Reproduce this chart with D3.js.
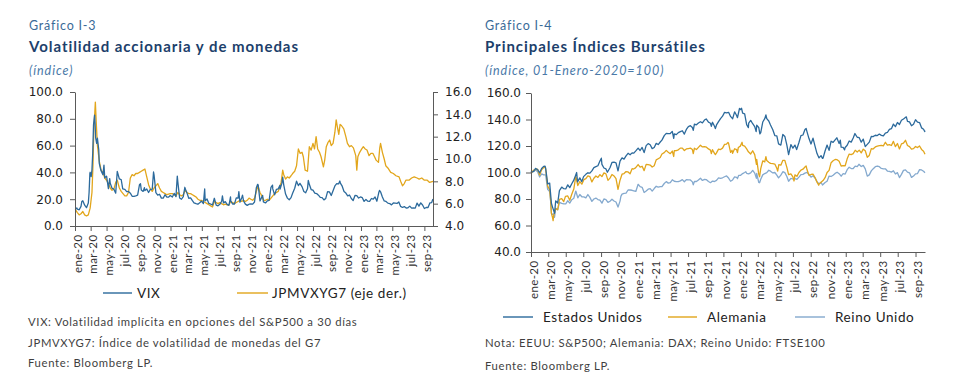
<!DOCTYPE html>
<html><head><meta charset="utf-8">
<script src="https://cdn.jsdelivr.net/npm/d3@7"></script>
<style>body{margin:0;background:#fff}</style>
</head><body>
<svg id="c" width="968" height="390"></svg>
<script>
// ---------------- DATA ----------------
const xTickLabels = ["ene-20","mar-20","may-20","jul-20","sep-20","nov-20","ene-21","mar-21","may-21","jul-21","sep-21","nov-21","ene-22","mar-22","may-22","jul-22","sep-22","nov-22","ene-23","mar-23","may-23","jul-23","sep-23"];
const yLeftTicks = [0,20,40,60,80,100];
const yRightTicks = [4,6,8,10,12,14,16];
const yIdxTicks = [40,60,80,100,120,140,160];

const vixData = [
["2020-01-02",12.5],["2020-01-08",13.5],["2020-01-10",12.6],["2020-01-17",12.1],["2020-01-24",14.6],["2020-01-27",18.2],["2020-01-31",18.8],["2020-02-07",15.5],["2020-02-14",13.7],["2020-02-21",17.1],["2020-02-24",25.0],["2020-02-27",39.2],["2020-02-28",40.1],["2020-03-03",36.8],["2020-03-06",41.9],["2020-03-09",54.5],["2020-03-12",75.5],["2020-03-16",82.7],["2020-03-18",76.5],["2020-03-20",66.0],["2020-03-24",61.7],["2020-03-27",65.5],["2020-04-01",57.1],["2020-04-03",46.8],["2020-04-09",41.7],["2020-04-17",38.2],["2020-04-21",45.4],["2020-04-24",35.9],["2020-05-01",37.2],["2020-05-08",27.9],["2020-05-13",35.3],["2020-05-15",31.9],["2020-05-22",28.2],["2020-05-29",27.5],["2020-06-05",24.5],["2020-06-11",40.8],["2020-06-19",35.1],["2020-06-26",34.7],["2020-07-02",27.7],["2020-07-10",27.3],["2020-07-17",25.7],["2020-07-24",25.8],["2020-07-31",24.5],["2020-08-07",22.2],["2020-08-14",22.1],["2020-08-21",22.5],["2020-08-28",22.96],["2020-09-04",30.75],["2020-09-08",31.5],["2020-09-11",26.9],["2020-09-18",25.8],["2020-09-23",28.6],["2020-09-25",26.4],["2020-10-02",27.6],["2020-10-09",25.0],["2020-10-16",27.4],["2020-10-23",27.55],["2020-10-28",40.3],["2020-10-30",38.0],["2020-11-06",24.9],["2020-11-13",23.1],["2020-11-20",23.7],["2020-11-27",20.8],["2020-12-04",20.8],["2020-12-11",23.3],["2020-12-18",21.6],["2020-12-24",21.5],["2020-12-31",22.75],
["2021-01-08",21.6],["2021-01-15",24.3],["2021-01-22",21.9],["2021-01-27",37.2],["2021-01-29",33.1],["2021-02-05",20.9],["2021-02-12",19.97],["2021-02-19",22.0],["2021-02-25",28.9],["2021-02-26",27.95],["2021-03-05",24.7],["2021-03-12",20.7],["2021-03-19",20.95],["2021-03-26",18.9],["2021-04-01",17.3],["2021-04-09",16.7],["2021-04-16",16.25],["2021-04-23",17.3],["2021-04-30",18.6],["2021-05-07",16.7],["2021-05-12",27.6],["2021-05-14",18.8],["2021-05-21",20.15],["2021-05-28",16.8],["2021-06-04",16.4],["2021-06-11",15.65],["2021-06-18",20.7],["2021-06-25",15.6],["2021-07-02",15.1],["2021-07-09",16.2],["2021-07-16",18.45],["2021-07-19",22.5],["2021-07-23",17.2],["2021-07-30",18.2],["2021-08-06",16.15],["2021-08-13",15.45],["2021-08-19",21.7],["2021-08-20",18.6],["2021-08-27",16.4],["2021-09-03",16.4],["2021-09-10",20.95],["2021-09-17",20.8],["2021-09-20",25.7],["2021-09-24",17.75],["2021-10-01",21.15],["2021-10-04",22.96],["2021-10-08",18.77],["2021-10-15",16.3],["2021-10-22",15.4],["2021-10-29",16.26],["2021-11-05",16.5],["2021-11-12",16.3],["2021-11-19",17.9],["2021-11-26",28.6],["2021-12-01",31.1],["2021-12-03",30.7],["2021-12-10",18.7],["2021-12-17",21.6],["2021-12-20",22.9],["2021-12-23",17.95],["2021-12-31",17.2],
["2022-01-07",18.76],["2022-01-14",19.2],["2022-01-21",28.85],["2022-01-27",30.5],["2022-01-28",27.7],["2022-02-04",23.2],["2022-02-11",27.4],["2022-02-18",27.75],["2022-02-24",30.3],["2022-02-25",27.6],["2022-03-04",31.98],["2022-03-07",36.45],["2022-03-11",30.75],["2022-03-18",23.87],["2022-03-25",20.8],["2022-04-01",19.6],["2022-04-08",21.16],["2022-04-14",24.4],["2022-04-22",28.2],["2022-04-29",33.4],["2022-05-06",30.2],["2022-05-12",31.8],["2022-05-20",29.4],["2022-05-27",25.7],["2022-06-03",24.8],["2022-06-10",27.75],["2022-06-13",34.0],["2022-06-17",31.1],["2022-06-24",27.2],["2022-07-01",26.7],["2022-07-08",24.6],["2022-07-15",24.2],["2022-07-22",23.0],["2022-07-29",21.3],["2022-08-05",21.15],["2022-08-12",19.5],["2022-08-19",20.6],["2022-08-26",25.6],["2022-09-02",25.47],["2022-09-09",22.8],["2022-09-16",26.3],["2022-09-23",29.9],["2022-09-30",31.6],["2022-10-07",31.4],["2022-10-12",33.6],["2022-10-14",32.0],["2022-10-21",29.7],["2022-10-28",25.75],["2022-11-04",24.55],["2022-11-11",22.5],["2022-11-18",23.1],["2022-11-25",20.5],["2022-12-02",19.06],["2022-12-09",22.8],["2022-12-16",22.6],["2022-12-23",20.87],["2022-12-30",21.67],
["2023-01-06",21.13],["2023-01-13",18.35],["2023-01-20",19.85],["2023-01-27",18.51],["2023-02-03",18.33],["2023-02-10",20.53],["2023-02-17",20.02],["2023-02-24",21.67],["2023-03-03",18.49],["2023-03-10",24.8],["2023-03-13",26.52],["2023-03-17",25.5],["2023-03-24",21.7],["2023-03-31",18.7],["2023-04-06",18.4],["2023-04-14",17.07],["2023-04-21",16.77],["2023-04-28",15.78],["2023-05-05",17.19],["2023-05-12",17.03],["2023-05-19",16.81],["2023-05-26",17.95],["2023-06-02",14.6],["2023-06-09",13.83],["2023-06-16",14.5],["2023-06-23",13.44],["2023-06-30",13.59],["2023-07-07",14.83],["2023-07-14",13.34],["2023-07-21",13.6],["2023-07-28",13.33],["2023-08-04",17.1],["2023-08-11",14.84],["2023-08-18",17.3],["2023-08-25",15.68],["2023-09-01",13.09],["2023-09-08",13.84],["2023-09-15",13.79],["2023-09-22",17.2],["2023-09-29",17.52],["2023-10-03",19.78],["2023-10-04",18.6]
];

const jpmData = [
["2020-01-02",5.5],["2020-01-10",5.2],["2020-01-17",5.0],["2020-01-24",5.1],["2020-01-31",5.3],["2020-02-07",5.0],["2020-02-14",4.9],["2020-02-21",5.0],["2020-02-28",5.6],["2020-03-06",7.0],["2020-03-10",9.5],["2020-03-13",12.5],["2020-03-17",14.2],["2020-03-19",15.1],["2020-03-23",13.0],["2020-03-27",11.2],["2020-04-03",9.8],["2020-04-10",9.0],["2020-04-17",8.8],["2020-04-24",8.3],["2020-05-01",8.1],["2020-05-08",7.8],["2020-05-15",7.4],["2020-05-22",7.2],["2020-05-29",7.3],["2020-06-05",7.9],["2020-06-11",8.1],["2020-06-19",7.4],["2020-06-26",7.1],["2020-07-03",6.9],["2020-07-10",6.7],["2020-07-17",6.7],["2020-07-24",7.0],["2020-07-31",8.3],["2020-08-07",8.6],["2020-08-14",8.5],["2020-08-21",8.7],["2020-08-28",8.7],["2020-09-04",8.8],["2020-09-11",8.9],["2020-09-18",9.0],["2020-09-25",9.1],["2020-10-02",8.4],["2020-10-09",7.7],["2020-10-16",7.3],["2020-10-23",7.1],["2020-10-30",7.4],["2020-11-06",7.6],["2020-11-13",7.8],["2020-11-20",7.4],["2020-11-27",7.1],["2020-12-04",7.0],["2020-12-11",6.9],["2020-12-18",6.8],["2020-12-31",6.9],
["2021-01-08",6.9],["2021-01-15",6.8],["2021-01-22",6.7],["2021-01-29",7.0],["2021-02-05",6.8],["2021-02-12",6.7],["2021-02-19",6.8],["2021-02-26",7.2],["2021-03-05",7.0],["2021-03-12",6.9],["2021-03-19",6.9],["2021-03-26",6.8],["2021-04-02",6.7],["2021-04-09",6.6],["2021-04-16",6.4],["2021-04-23",6.3],["2021-04-30",6.3],["2021-05-07",6.2],["2021-05-14",6.1],["2021-05-21",6.0],["2021-05-28",5.9],["2021-06-04",5.8],["2021-06-11",5.7],["2021-06-18",6.2],["2021-06-25",6.1],["2021-07-02",6.0],["2021-07-09",6.1],["2021-07-16",6.0],["2021-07-23",5.9],["2021-07-30",5.95],["2021-08-06",5.9],["2021-08-13",5.9],["2021-08-20",6.2],["2021-08-27",6.1],["2021-09-03",6.0],["2021-09-10",6.1],["2021-09-17",6.2],["2021-09-24",6.3],["2021-10-01",6.2],["2021-10-08",6.3],["2021-10-15",6.2],["2021-10-22",6.3],["2021-10-29",6.5],["2021-11-05",6.4],["2021-11-12",6.3],["2021-11-19",6.5],["2021-11-26",7.1],["2021-12-02",7.6],["2021-12-10",7.0],["2021-12-17",6.7],["2021-12-24",6.3],["2021-12-31",6.3],
["2022-01-07",6.4],["2022-01-14",6.3],["2022-01-21",6.5],["2022-01-28",6.7],["2022-02-04",6.9],["2022-02-11",7.0],["2022-02-18",7.1],["2022-02-25",7.6],["2022-03-01",7.9],["2022-03-07",9.0],["2022-03-11",8.6],["2022-03-18",8.2],["2022-03-25",8.4],["2022-04-01",8.3],["2022-04-08",8.5],["2022-04-14",8.7],["2022-04-22",8.9],["2022-04-29",9.4],["2022-05-06",10.9],["2022-05-13",10.5],["2022-05-20",10.6],["2022-05-25",10.2],["2022-06-01",9.0],["2022-06-10",8.9],["2022-06-17",11.1],["2022-06-24",10.8],["2022-07-01",11.4],["2022-07-07",10.9],["2022-07-13",12.0],["2022-07-19",10.9],["2022-07-26",10.6],["2022-08-01",10.2],["2022-08-10",9.3],["2022-08-15",9.9],["2022-08-21",11.1],["2022-08-28",11.5],["2022-09-03",11.7],["2022-09-09",11.2],["2022-09-16",11.4],["2022-09-23",12.4],["2022-09-28",13.5],["2022-10-03",12.8],["2022-10-08",12.2],["2022-10-13",13.1],["2022-10-18",13.0],["2022-10-27",12.7],["2022-11-04",12.0],["2022-11-10",11.4],["2022-11-18",11.1],["2022-11-25",11.2],["2022-12-03",11.0],["2022-12-12",10.3],["2022-12-16",9.0],["2022-12-20",10.2],["2022-12-27",10.6],
["2023-01-04",10.9],["2023-01-10",11.1],["2023-01-17",10.9],["2023-01-24",10.8],["2023-02-01",10.3],["2023-02-08",10.5],["2023-02-16",10.5],["2023-02-22",10.2],["2023-02-28",9.9],["2023-03-09",9.7],["2023-03-14",11.0],["2023-03-17",11.4],["2023-03-24",10.6],["2023-03-31",10.0],["2023-04-06",9.4],["2023-04-14",9.2],["2023-04-25",8.8],["2023-05-05",8.7],["2023-05-15",8.5],["2023-05-27",8.4],["2023-06-02",8.0],["2023-06-09",7.6],["2023-06-16",7.8],["2023-06-22",8.1],["2023-07-04",8.1],["2023-07-14",8.3],["2023-07-24",8.4],["2023-08-04",8.3],["2023-08-12",8.2],["2023-08-22",8.3],["2023-09-01",8.1],["2023-09-12",8.1],["2023-09-21",7.9],["2023-10-04",8.0]
];

const usData = [
["2020-01-01",100],["2020-01-10",100.9],["2020-01-17",103.1],["2020-01-24",102.1],["2020-01-31",99.8],["2020-02-07",103.0],["2020-02-14",104.6],["2020-02-19",104.8],["2020-02-21",103.3],["2020-02-28",91.4],["2020-03-06",92.0],["2020-03-12",76.8],["2020-03-16",73.9],["2020-03-23",69.2],["2020-03-27",78.6],["2020-04-03",77.0],["2020-04-09",86.3],["2020-04-17",89.0],["2020-04-24",87.8],["2020-05-01",87.6],["2020-05-08",90.7],["2020-05-15",88.6],["2020-05-22",91.5],["2020-05-29",94.2],["2020-06-08",100.0],["2020-06-11",92.9],["2020-06-19",95.9],["2020-06-26",93.1],["2020-07-02",96.9],["2020-07-10",98.6],["2020-07-17",99.8],["2020-07-24",99.5],["2020-07-31",101.2],["2020-08-07",103.7],["2020-08-14",104.4],["2020-08-21",105.1],["2020-08-28",108.6],["2020-09-02",110.8],["2020-09-04",106.1],["2020-09-11",103.4],["2020-09-18",102.7],["2020-09-23",100.2],["2020-10-02",103.6],["2020-10-09",107.6],["2020-10-16",107.8],["2020-10-23",107.3],["2020-10-30",101.2],["2020-11-06",108.6],["2020-11-13",111.0],["2020-11-20",110.1],["2020-11-27",112.6],["2020-12-04",114.5],["2020-12-11",113.4],["2020-12-18",114.8],["2020-12-24",114.6],["2020-12-31",116.3],
["2021-01-08",118.4],["2021-01-15",116.6],["2021-01-22",118.9],["2021-01-29",115.0],["2021-02-05",120.3],["2021-02-12",121.8],["2021-02-19",120.9],["2021-02-26",118.0],["2021-03-05",118.9],["2021-03-12",122.0],["2021-03-19",121.1],["2021-03-26",123.0],["2021-04-01",124.4],["2021-04-09",127.8],["2021-04-16",129.5],["2021-04-23",129.4],["2021-04-30",129.4],["2021-05-07",131.0],["2021-05-12",125.8],["2021-05-14",129.2],["2021-05-21",128.6],["2021-05-28",130.1],["2021-06-04",130.9],["2021-06-11",131.5],["2021-06-18",129.0],["2021-06-25",132.5],["2021-07-02",134.7],["2021-07-09",135.3],["2021-07-16",133.9],["2021-07-19",131.8],["2021-07-23",136.5],["2021-07-30",136.0],["2021-08-06",137.3],["2021-08-13",138.3],["2021-08-20",137.5],["2021-08-27",139.6],["2021-09-02",140.4],["2021-09-10",138.0],["2021-09-17",137.2],["2021-09-20",134.9],["2021-09-24",137.9],["2021-10-01",134.9],["2021-10-04",133.1],["2021-10-08",135.9],["2021-10-15",138.4],["2021-10-22",140.7],["2021-10-29",142.5],["2021-11-05",145.4],["2021-11-12",145.0],["2021-11-19",145.4],["2021-11-26",142.2],["2021-11-30",141.4],["2021-12-03",140.5],["2021-12-10",145.8],["2021-12-17",143.0],["2021-12-20",141.4],["2021-12-27",148.3],["2021-12-31",147.5],
["2022-01-03",148.5],["2022-01-07",144.8],["2022-01-14",144.3],["2022-01-21",136.1],["2022-01-27",133.9],["2022-01-28",137.2],["2022-02-04",139.3],["2022-02-11",136.8],["2022-02-18",134.6],["2022-02-23",130.8],["2022-02-25",135.7],["2022-03-04",134.0],["2022-03-08",129.1],["2022-03-11",130.1],["2022-03-18",138.1],["2022-03-25",140.6],["2022-03-29",143.4],["2022-04-01",140.7],["2022-04-08",138.9],["2022-04-14",135.9],["2022-04-22",132.2],["2022-04-29",127.9],["2022-05-06",127.6],["2022-05-12",121.6],["2022-05-20",120.7],["2022-05-27",128.7],["2022-06-03",127.2],["2022-06-10",120.7],["2022-06-16",113.5],["2022-06-24",121.1],["2022-07-01",118.4],["2022-07-08",120.7],["2022-07-14",117.3],["2022-07-22",122.6],["2022-07-29",127.8],["2022-08-05",128.3],["2022-08-12",132.5],["2022-08-16",133.2],["2022-08-19",130.9],["2022-08-26",125.6],["2022-09-02",121.5],["2022-09-09",125.9],["2022-09-16",119.9],["2022-09-23",114.3],["2022-09-30",111.0],["2022-10-07",112.7],["2022-10-12",110.7],["2022-10-14",110.9],["2022-10-21",116.2],["2022-10-28",120.7],["2022-11-04",116.7],["2022-11-11",123.6],["2022-11-18",122.7],["2022-11-25",124.6],["2022-12-01",126.2],["2022-12-09",121.8],["2022-12-13",124.4],["2022-12-16",119.2],["2022-12-23",119.0],["2022-12-28",117.1],["2022-12-30",118.9],
["2023-01-06",120.6],["2023-01-13",123.8],["2023-01-20",122.9],["2023-01-27",126.0],["2023-02-02",129.4],["2023-02-10",126.6],["2023-02-17",126.3],["2023-02-24",122.9],["2023-03-03",125.2],["2023-03-10",119.5],["2023-03-17",121.2],["2023-03-24",122.9],["2023-03-31",127.2],["2023-04-06",127.1],["2023-04-14",128.1],["2023-04-21",127.9],["2023-04-28",129.0],["2023-05-05",128.0],["2023-05-12",127.6],["2023-05-19",129.8],["2023-05-26",130.2],["2023-06-02",132.5],["2023-06-09",133.1],["2023-06-16",136.5],["2023-06-23",134.6],["2023-06-30",137.7],["2023-07-07",136.2],["2023-07-14",139.4],["2023-07-21",140.4],["2023-07-31",142.0],["2023-08-04",138.6],["2023-08-11",138.2],["2023-08-18",135.3],["2023-08-25",136.4],["2023-09-01",139.8],["2023-09-08",138.0],["2023-09-15",137.7],["2023-09-22",133.7],["2023-09-29",132.7],["2023-10-03",130.9],["2023-10-04",131.6]
];

const deData = [
["2020-01-01",100],["2020-01-03",99.8],["2020-01-10",101.8],["2020-01-17",102.1],["2020-01-24",102.5],["2020-01-31",98.0],["2020-02-07",102.0],["2020-02-14",103.7],["2020-02-19",104.1],["2020-02-21",102.5],["2020-02-28",89.7],["2020-03-06",87.1],["2020-03-09",80.2],["2020-03-12",69.1],["2020-03-16",66.0],["2020-03-18",63.7],["2020-03-20",67.4],["2020-03-27",72.7],["2020-04-03",71.9],["2020-04-09",79.7],["2020-04-17",80.2],["2020-04-24",78.0],["2020-04-30",82.0],["2020-05-08",82.3],["2020-05-15",79.0],["2020-05-22",83.6],["2020-05-29",87.5],["2020-06-05",97.0],["2020-06-12",90.2],["2020-06-19",93.1],["2020-06-26",91.2],["2020-07-03",94.6],["2020-07-10",95.4],["2020-07-17",97.5],["2020-07-24",96.9],["2020-07-31",92.9],["2020-08-07",95.7],["2020-08-14",97.4],["2020-08-21",96.3],["2020-08-28",98.4],["2020-09-04",96.9],["2020-09-11",99.7],["2020-09-18",99.0],["2020-09-25",94.1],["2020-10-02",95.8],["2020-10-09",98.5],["2020-10-16",97.4],["2020-10-23",95.4],["2020-10-30",87.2],["2020-11-06",94.2],["2020-11-13",98.7],["2020-11-20",99.2],["2020-11-27",100.7],["2020-12-04",100.4],["2020-12-11",99.0],["2020-12-18",102.9],["2020-12-23",102.6],["2020-12-30",103.5],
["2021-01-08",106.0],["2021-01-15",104.1],["2021-01-22",104.7],["2021-01-29",101.4],["2021-02-05",106.1],["2021-02-12",106.0],["2021-02-19",105.6],["2021-02-26",104.1],["2021-03-05",105.1],["2021-03-12",109.5],["2021-03-19",110.4],["2021-03-26",111.3],["2021-04-01",114.0],["2021-04-09",115.0],["2021-04-16",116.7],["2021-04-23",115.3],["2021-04-30",114.2],["2021-05-07",116.2],["2021-05-12",112.1],["2021-05-14",116.4],["2021-05-21",116.5],["2021-05-28",117.1],["2021-06-04",118.4],["2021-06-11",118.4],["2021-06-18",116.6],["2021-06-25",117.8],["2021-07-02",118.1],["2021-07-09",118.4],["2021-07-16",117.3],["2021-07-19",114.2],["2021-07-23",118.3],["2021-07-30",117.3],["2021-08-06",119.0],["2021-08-13",120.6],["2021-08-20",119.3],["2021-08-27",119.6],["2021-09-03",119.1],["2021-09-10",117.8],["2021-09-17",116.9],["2021-09-20",114.2],["2021-09-24",117.2],["2021-10-01",114.4],["2021-10-04",113.5],["2021-10-08",114.8],["2021-10-15",117.6],["2021-10-22",117.3],["2021-10-29",118.4],["2021-11-05",121.2],["2021-11-12",121.5],["2021-11-17",122.7],["2021-11-19",122.0],["2021-11-26",115.2],["2021-12-01",116.8],["2021-12-03",114.5],["2021-12-10",117.9],["2021-12-17",117.2],["2021-12-20",115.0],["2021-12-23",118.9],["2021-12-30",119.9],
["2022-01-05",122.8],["2022-01-07",120.4],["2022-01-14",119.9],["2022-01-21",117.8],["2022-01-27",115.6],["2022-02-04",114.0],["2022-02-11",116.4],["2022-02-18",113.5],["2022-02-24",106.1],["2022-02-25",109.9],["2022-03-04",98.8],["2022-03-07",96.8],["2022-03-11",102.9],["2022-03-18",108.8],["2022-03-25",108.0],["2022-03-29",111.9],["2022-04-01",109.0],["2022-04-08",107.8],["2022-04-14",106.9],["2022-04-22",106.7],["2022-04-29",106.4],["2022-05-06",103.2],["2022-05-09",101.0],["2022-05-13",105.9],["2022-05-20",105.5],["2022-05-27",109.2],["2022-06-03",109.1],["2022-06-10",103.9],["2022-06-16",98.4],["2022-06-24",99.0],["2022-07-01",96.7],["2022-07-05",93.6],["2022-07-08",98.2],["2022-07-15",97.1],["2022-07-22",100.0],["2022-07-29",101.8],["2022-08-05",102.5],["2022-08-12",104.1],["2022-08-16",105.0],["2022-08-19",102.2],["2022-08-26",97.9],["2022-09-02",98.5],["2022-09-09",98.8],["2022-09-16",96.2],["2022-09-23",92.7],["2022-09-29",90.4],["2022-09-30",91.4],["2022-10-07",92.6],["2022-10-14",93.9],["2022-10-21",96.1],["2022-10-28",100.0],["2022-11-04",101.6],["2022-11-11",107.4],["2022-11-18",108.9],["2022-11-25",109.8],["2022-12-02",109.7],["2022-12-09",108.5],["2022-12-16",104.9],["2022-12-23",105.2],["2022-12-30",105.1],
["2023-01-06",110.3],["2023-01-13",113.9],["2023-01-20",113.5],["2023-01-27",114.3],["2023-02-03",116.8],["2023-02-10",115.5],["2023-02-17",116.9],["2023-02-24",114.8],["2023-03-03",117.6],["2023-03-10",116.4],["2023-03-17",111.5],["2023-03-24",112.9],["2023-03-31",118.0],["2023-04-06",117.7],["2023-04-14",119.3],["2023-04-21",119.9],["2023-04-28",120.2],["2023-05-05",120.5],["2023-05-12",120.1],["2023-05-19",122.8],["2023-05-26",120.6],["2023-06-02",121.1],["2023-06-09",120.4],["2023-06-16",123.5],["2023-06-23",119.5],["2023-06-30",121.9],["2023-07-07",117.8],["2023-07-14",121.6],["2023-07-21",122.1],["2023-07-28",124.3],["2023-08-04",120.4],["2023-08-11",119.5],["2023-08-18",117.6],["2023-08-25",118.0],["2023-09-01",119.6],["2023-09-08",118.8],["2023-09-15",120.0],["2023-09-22",117.4],["2023-09-29",116.1],["2023-10-04",113.8]
];

const ukData = [
["2020-01-01",100],["2020-01-03",101.1],["2020-01-10",100.6],["2020-01-17",101.8],["2020-01-24",100.6],["2020-01-31",96.6],["2020-02-07",99.0],["2020-02-14",98.2],["2020-02-21",98.2],["2020-02-28",87.3],["2020-03-06",85.7],["2020-03-09",79.1],["2020-03-12",69.4],["2020-03-16",68.3],["2020-03-20",68.8],["2020-03-23",66.2],["2020-03-27",73.1],["2020-04-03",71.8],["2020-04-09",77.5],["2020-04-17",76.7],["2020-04-24",76.3],["2020-05-01",76.4],["2020-05-08",78.7],["2020-05-15",76.9],["2020-05-22",79.5],["2020-05-29",80.6],["2020-06-05",86.0],["2020-06-12",80.9],["2020-06-19",83.4],["2020-06-26",81.7],["2020-07-03",81.6],["2020-07-10",80.8],["2020-07-17",83.4],["2020-07-24",81.2],["2020-07-31",78.2],["2020-08-07",80.0],["2020-08-14",80.7],["2020-08-21",79.6],["2020-08-28",79.1],["2020-09-04",76.9],["2020-09-11",80.0],["2020-09-18",79.6],["2020-09-25",77.5],["2020-10-02",78.3],["2020-10-09",79.8],["2020-10-16",78.5],["2020-10-23",77.7],["2020-10-30",73.9],["2020-11-06",78.4],["2020-11-09",82.0],["2020-11-13",83.7],["2020-11-20",84.2],["2020-11-27",84.4],["2020-12-04",86.8],["2020-12-11",86.8],["2020-12-18",86.6],["2020-12-24",86.2],["2020-12-31",85.7],
["2021-01-08",91.1],["2021-01-15",89.3],["2021-01-22",88.8],["2021-01-29",84.9],["2021-02-05",86.0],["2021-02-12",87.4],["2021-02-19",87.8],["2021-02-26",86.0],["2021-03-05",87.9],["2021-03-12",89.6],["2021-03-19",89.0],["2021-03-26",89.4],["2021-04-01",89.3],["2021-04-09",91.7],["2021-04-16",93.1],["2021-04-23",92.0],["2021-04-30",92.4],["2021-05-07",94.5],["2021-05-14",93.4],["2021-05-21",93.1],["2021-05-28",93.1],["2021-06-04",93.7],["2021-06-11",94.6],["2021-06-18",93.0],["2021-06-25",94.6],["2021-07-02",94.4],["2021-07-09",94.4],["2021-07-16",92.9],["2021-07-19",90.7],["2021-07-23",93.2],["2021-07-30",93.2],["2021-08-06",94.4],["2021-08-13",95.7],["2021-08-20",94.0],["2021-08-27",94.8],["2021-09-03",94.6],["2021-09-10",93.2],["2021-09-17",92.3],["2021-09-24",93.5],["2021-10-01",93.2],["2021-10-08",94.1],["2021-10-15",95.9],["2021-10-22",95.5],["2021-10-29",96.0],["2021-11-05",96.8],["2021-11-12",97.4],["2021-11-19",95.8],["2021-11-26",93.4],["2021-12-03",94.4],["2021-12-10",96.7],["2021-12-17",96.4],["2021-12-20",95.4],["2021-12-24",97.8],["2021-12-31",97.9],
["2022-01-07",99.2],["2022-01-14",100.0],["2022-01-18",100.6],["2022-01-21",99.4],["2022-01-28",99.0],["2022-02-04",99.7],["2022-02-11",101.6],["2022-02-18",99.6],["2022-02-24",95.6],["2022-02-25",99.3],["2022-03-04",92.6],["2022-03-07",92.3],["2022-03-11",94.9],["2022-03-18",98.2],["2022-03-25",99.2],["2022-04-01",99.9],["2022-04-08",101.7],["2022-04-14",101.0],["2022-04-22",99.7],["2022-04-29",100.0],["2022-05-06",98.0],["2022-05-12",95.9],["2022-05-20",98.0],["2022-05-27",100.6],["2022-06-03",99.9],["2022-06-10",97.0],["2022-06-16",93.4],["2022-06-24",95.6],["2022-07-01",95.1],["2022-07-08",95.4],["2022-07-15",94.9],["2022-07-22",96.5],["2022-07-29",98.4],["2022-08-05",98.6],["2022-08-12",99.5],["2022-08-19",100.1],["2022-08-26",98.5],["2022-09-02",96.5],["2022-09-09",97.5],["2022-09-16",95.9],["2022-09-23",93.1],["2022-09-30",91.4],["2022-10-07",92.7],["2022-10-12",90.5],["2022-10-14",90.9],["2022-10-21",92.4],["2022-10-28",93.4],["2022-11-04",97.3],["2022-11-11",97.0],["2022-11-18",97.9],["2022-11-25",99.3],["2022-12-02",100.2],["2022-12-09",99.1],["2022-12-16",97.2],["2022-12-23",99.1],["2022-12-30",98.8],
["2023-01-06",102.1],["2023-01-13",104.0],["2023-01-20",103.0],["2023-01-27",103.0],["2023-02-03",104.8],["2023-02-10",104.5],["2023-02-16",106.2],["2023-02-24",104.5],["2023-03-03",105.4],["2023-03-10",102.7],["2023-03-17",97.3],["2023-03-24",98.2],["2023-03-31",101.2],["2023-04-06",102.7],["2023-04-14",104.4],["2023-04-21",104.9],["2023-04-28",104.4],["2023-05-05",103.1],["2023-05-12",102.8],["2023-05-19",102.8],["2023-05-26",101.1],["2023-06-02",100.9],["2023-06-09",100.3],["2023-06-16",101.3],["2023-06-23",98.9],["2023-06-30",99.9],["2023-07-07",96.2],["2023-07-14",98.6],["2023-07-21",101.6],["2023-07-28",102.0],["2023-08-04",100.3],["2023-08-11",99.8],["2023-08-18",96.3],["2023-08-25",97.3],["2023-09-01",99.0],["2023-09-08",99.2],["2023-09-15",102.2],["2023-09-22",101.9],["2023-09-29",100.9],["2023-10-04",99.8]
];

// ---------------- DRAW ----------------
const svg = d3.select("#c");
const parse = d3.timeParse("%Y-%m-%d");
const monthIdx = {ene:0,feb:1,mar:2,abr:3,may:4,jun:5,jul:6,ago:7,sep:8,oct:9,nov:10,dic:11};
const tickDates = xTickLabels.map(s => { const [m,y] = s.split("-"); return new Date(2000 + +y, monthIdx[m], 1); });
const labelOf = new Map(tickDates.map((d,i) => [+d, xTickLabels[i]]));
const xDomain = [new Date(2020,0,1), new Date(2023,9,4)];

const C = { blue:"#2C6A9C", gold:"#E2A61C", light:"#84A9CE", axis:"#5a5a5a", title:"#1D3F6B", sub:"#4A79A8", head:"#3A6A98", text:"#222", note:"#3f3f3f" };
const TXT = "Lato, 'Open Sans', sans-serif";
const NUM = "'DejaVu Sans', Verdana, sans-serif";

function header(x, g, t, s) {
  svg.append("text").attr("x", x).attr("y", 30).attr("font-family", TXT).attr("font-size", 12.5).attr("letter-spacing", 0.8).attr("fill", C.head).text(g);
  svg.append("text").attr("x", x).attr("y", 52).attr("font-family", TXT).attr("font-weight", 700).attr("font-size", 15).attr("letter-spacing", 0.95).attr("fill", C.title).text(t);
  svg.append("text").attr("x", x).attr("y", 75).attr("font-family", TXT).attr("font-style", "italic").attr("font-size", 12.5).attr("letter-spacing", 0.95).attr("fill", C.sub).text(s);
}
function styleAxis(g) {
  g.select(".domain").attr("stroke", C.axis).attr("stroke-width", 1);
  g.selectAll(".tick line").attr("stroke", C.axis);
}
function xAxis(x, y0) {
  const g = svg.append("g").attr("transform", `translate(0,${y0})`)
    .call(d3.axisBottom(x).tickValues(tickDates).tickSize(5).tickSizeOuter(0).tickFormat(d => labelOf.get(+d)));
  styleAxis(g);
  g.selectAll(".tick text").attr("font-family", TXT).attr("font-size", 11.5).attr("letter-spacing", 0.4).attr("fill", "#333")
    .attr("text-anchor", "end").attr("transform", "translate(2,8.5) rotate(-90)").attr("x", 0).attr("y", 0).attr("dy", "0.35em");
}
function yAxis(y, x0, ticks, orient, pad) {
  const ax = (orient === "left" ? d3.axisLeft(y) : d3.axisRight(y)).tickValues(ticks).tickSize(5).tickSizeOuter(0).tickPadding(pad).tickFormat(d3.format(".1f"));
  const g = svg.append("g").attr("transform", `translate(${x0},0)`).call(ax);
  styleAxis(g);
  g.selectAll(".tick text").attr("font-family", NUM).attr("font-size", 12).attr("fill", C.text);
}
function series(data, x, y, color, w) {
  const line = d3.line().x(d => x(parse(d[0]))).y(d => y(d[1]));
  svg.append("path").datum(data).attr("d", line).attr("fill", "none").attr("stroke", color).attr("stroke-width", w).attr("stroke-linejoin", "round");
}
function legendItem(x1, x2, tx, y, color, label) {
  svg.append("line").attr("x1", x1).attr("x2", x2).attr("y1", y).attr("y2", y).attr("stroke", color).attr("stroke-width", 2).attr("opacity", 0.7);
  svg.append("text").attr("x", tx).attr("y", y + 4.5).attr("font-family", TXT).attr("font-size", 13.5).attr("letter-spacing", 0.6).attr("fill", C.text).text(label);
}
function note(x, y, t) {
  svg.append("text").attr("x", x).attr("y", y).attr("font-family", TXT).attr("font-size", 11.3).attr("letter-spacing", 0.66).attr("fill", C.note).text(t);
}

// ----- Left chart -----
header(29, "Gráfico I-3", "Volatilidad accionaria y de monedas", "(índice)");
const xL = d3.scaleTime().domain(xDomain).range([75, 433]);
const yL = d3.scaleLinear().domain([0, 100]).range([226, 92]);
const yR = d3.scaleLinear().domain([4, 16]).range([226, 92]);
series(jpmData, xL, yR, C.gold, 1.3);
series(vixData, xL, yL, C.blue, 1.3);
yAxis(yL, 75, yLeftTicks, "left", 7);
yAxis(yR, 433, yRightTicks, "right", 7);
xAxis(xL, 226);
legendItem(103, 132, 137, 293, C.blue, "VIX");
legendItem(237, 268, 272, 293, C.gold, "JPMVXYG7 (eje der.)");
note(28, 326, "VIX: Volatilidad implícita en opciones del S&P500 a 30 días");
note(28, 347, "JPMVXYG7: Índice de volatilidad de monedas del G7");
note(28, 367, "Fuente: Bloomberg LP.");

// ----- Right chart -----
header(485, "Gráfico I-4", "Principales Índices Bursátiles", "(índice, 01-Enero-2020=100)");
const xR = d3.scaleTime().domain(xDomain).range([531, 925]);
const yI = d3.scaleLinear().domain([40, 160]).range([252, 93]);
series(ukData, xR, yI, C.light, 1.3);
series(deData, xR, yI, C.gold, 1.3);
series(usData, xR, yI, C.blue, 1.3);
yAxis(yI, 531, yIdxTicks, "left", 5);
xAxis(xR, 252);
legendItem(503, 533, 543, 317, C.blue, "Estados Unidos");
legendItem(668, 697, 707, 317, C.gold, "Alemania");
legendItem(795, 825, 835, 317, C.light, "Reino Unido");
note(485, 347, "Nota: EEUU: S&P500; Alemania: DAX; Reino Unido: FTSE100");
note(485, 370, "Fuente: Bloomberg LP.");
</script>
</body></html>
